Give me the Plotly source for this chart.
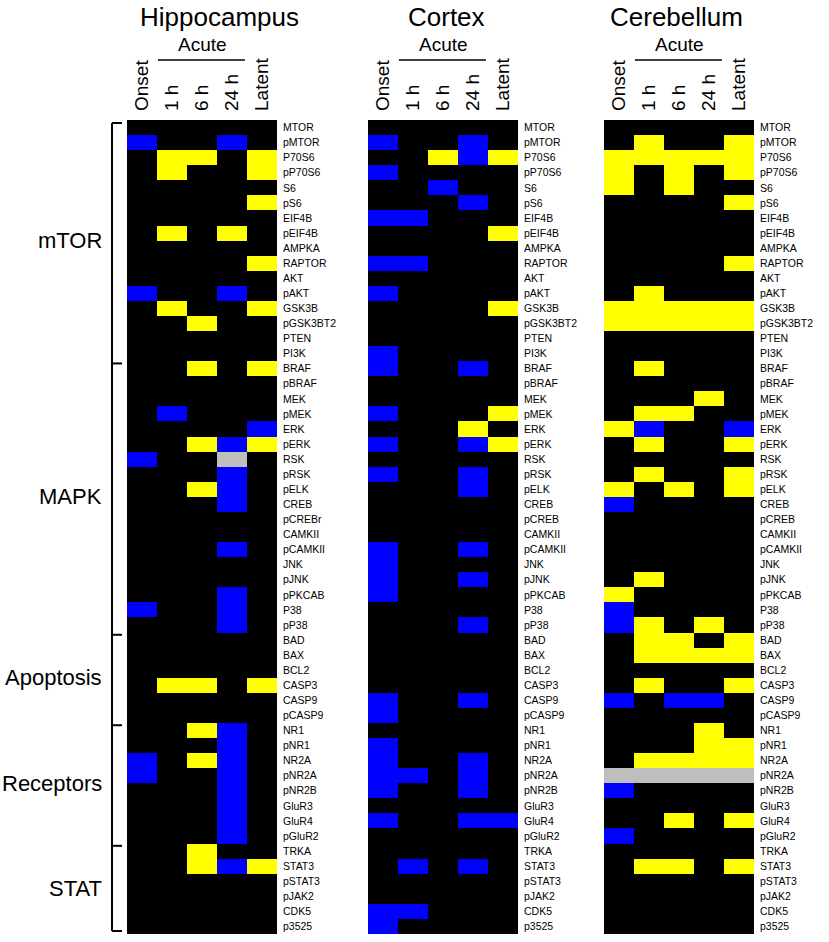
import plotly.graph_objects as go

# -1 = down (blue), 0 = no change (black), 1 = up (yellow), None = not measured (grey)
columns = ["Onset", "1 h", "6 h", "24 h", "Latent"]

proteins = ["MTOR", "pMTOR", "P70S6", "pP70S6", "S6", "pS6", "EIF4B", "pEIF4B",
            "AMPKA", "RAPTOR", "AKT", "pAKT", "GSK3B", "pGSK3BT2", "PTEN", "PI3K",
            "BRAF", "pBRAF", "MEK", "pMEK", "ERK", "pERK", "RSK", "pRSK", "pELK",
            "CREB", "pCREB", "CAMKII", "pCAMKII", "JNK", "pJNK", "pPKCAB", "P38",
            "pP38", "BAD", "BAX", "BCL2", "CASP3", "CASP9", "pCASP9", "NR1", "pNR1",
            "NR2A", "pNR2A", "pNR2B", "GluR3", "GluR4", "pGluR2", "TRKA", "STAT3",
            "pSTAT3", "pJAK2", "CDK5", "p3525"]
hippo_labels = [("pCREBr" if p == "pCREB" else p) for p in proteins]

hippocampus = [
    [0, 0, 0, 0, 0], [-1, 0, 0, -1, 0], [0, 1, 1, 0, 1], [0, 1, 0, 0, 1],
    [0, 0, 0, 0, 0], [0, 0, 0, 0, 1], [0, 0, 0, 0, 0], [0, 1, 0, 1, 0],
    [0, 0, 0, 0, 0], [0, 0, 0, 0, 1], [0, 0, 0, 0, 0], [-1, 0, 0, -1, 0],
    [0, 1, 0, 0, 1], [0, 0, 1, 0, 0], [0, 0, 0, 0, 0], [0, 0, 0, 0, 0],
    [0, 0, 1, 0, 1], [0, 0, 0, 0, 0], [0, 0, 0, 0, 0], [0, -1, 0, 0, 0],
    [0, 0, 0, 0, -1], [0, 0, 1, -1, 1], [-1, 0, 0, None, 0], [0, 0, 0, -1, 0],
    [0, 0, 1, -1, 0], [0, 0, 0, -1, 0], [0, 0, 0, 0, 0], [0, 0, 0, 0, 0],
    [0, 0, 0, -1, 0], [0, 0, 0, 0, 0], [0, 0, 0, 0, 0], [0, 0, 0, -1, 0],
    [-1, 0, 0, -1, 0], [0, 0, 0, -1, 0], [0, 0, 0, 0, 0], [0, 0, 0, 0, 0],
    [0, 0, 0, 0, 0], [0, 1, 1, 0, 1], [0, 0, 0, 0, 0], [0, 0, 0, 0, 0],
    [0, 0, 1, -1, 0], [0, 0, 0, -1, 0], [-1, 0, 1, -1, 0], [-1, 0, 0, -1, 0],
    [0, 0, 0, -1, 0], [0, 0, 0, -1, 0], [0, 0, 0, -1, 0], [0, 0, 0, -1, 0],
    [0, 0, 1, 0, 0], [0, 0, 1, -1, 1], [0, 0, 0, 0, 0], [0, 0, 0, 0, 0],
    [0, 0, 0, 0, 0], [0, 0, 0, 0, 0],
]

cortex = [
    [0, 0, 0, 0, 0], [-1, 0, 0, -1, 0], [0, 0, 1, -1, 1], [-1, 0, 0, 0, 0],
    [0, 0, -1, 0, 0], [0, 0, 0, -1, 0], [-1, -1, 0, 0, 0], [0, 0, 0, 0, 1],
    [0, 0, 0, 0, 0], [-1, -1, 0, 0, 0], [0, 0, 0, 0, 0], [-1, 0, 0, 0, 0],
    [0, 0, 0, 0, 1], [0, 0, 0, 0, 0], [0, 0, 0, 0, 0], [-1, 0, 0, 0, 0],
    [-1, 0, 0, -1, 0], [0, 0, 0, 0, 0], [0, 0, 0, 0, 0], [-1, 0, 0, 0, 1],
    [0, 0, 0, 1, 0], [-1, 0, 0, -1, 1], [0, 0, 0, 0, 0], [-1, 0, 0, -1, 0],
    [0, 0, 0, -1, 0], [0, 0, 0, 0, 0], [0, 0, 0, 0, 0], [0, 0, 0, 0, 0],
    [-1, 0, 0, -1, 0], [-1, 0, 0, 0, 0], [-1, 0, 0, -1, 0], [-1, 0, 0, 0, 0],
    [0, 0, 0, 0, 0], [0, 0, 0, -1, 0], [0, 0, 0, 0, 0], [0, 0, 0, 0, 0],
    [0, 0, 0, 0, 0], [0, 0, 0, 0, 0], [-1, 0, 0, -1, 0], [-1, 0, 0, 0, 0],
    [0, 0, 0, 0, 0], [-1, 0, 0, 0, 0], [-1, 0, 0, -1, 0], [-1, -1, 0, -1, 0],
    [-1, 0, 0, -1, 0], [0, 0, 0, 0, 0], [-1, 0, 0, -1, -1], [0, 0, 0, 0, 0],
    [0, 0, 0, 0, 0], [0, -1, 0, -1, 0], [0, 0, 0, 0, 0], [0, 0, 0, 0, 0],
    [-1, -1, 0, 0, 0], [-1, 0, 0, 0, 0],
]

cerebellum = [
    [0, 0, 0, 0, 0], [0, 1, 0, 0, 1], [1, 1, 1, 1, 1], [1, 0, 1, 0, 1],
    [1, 0, 1, 0, 0], [0, 0, 0, 0, 1], [0, 0, 0, 0, 0], [0, 0, 0, 0, 0],
    [0, 0, 0, 0, 0], [0, 0, 0, 0, 1], [0, 0, 0, 0, 0], [0, 1, 0, 0, 0],
    [1, 1, 1, 1, 1], [1, 1, 1, 1, 1], [0, 0, 0, 0, 0], [0, 0, 0, 0, 0],
    [0, 1, 0, 0, 0], [0, 0, 0, 0, 0], [0, 0, 0, 1, 0], [0, 1, 1, 0, 0],
    [1, -1, 0, 0, -1], [0, 1, 0, 0, 1], [0, 0, 0, 0, 0], [0, 1, 0, 0, 1],
    [1, 0, 1, 0, 1], [-1, 0, 0, 0, 0], [0, 0, 0, 0, 0], [0, 0, 0, 0, 0],
    [0, 0, 0, 0, 0], [0, 0, 0, 0, 0], [0, 1, 0, 0, 0], [1, 0, 0, 0, 0],
    [-1, 0, 0, 0, 0], [-1, 1, 0, 1, 0], [0, 1, 1, 0, 1], [0, 1, 1, 1, 1],
    [0, 0, 0, 0, 0], [0, 1, 0, 0, 1], [-1, 0, -1, -1, 0], [0, 0, 0, 0, 0],
    [0, 0, 0, 1, 0], [0, 0, 0, 1, 1], [0, 1, 1, 1, 1],
    [None, None, None, None, None],
    [-1, 0, 0, 0, 0], [0, 0, 0, 0, 0], [0, 0, 1, 0, 1], [-1, 0, 0, 0, 0],
    [0, 0, 0, 0, 0], [0, 1, 1, 0, 1], [0, 0, 0, 0, 0], [0, 0, 0, 0, 0],
    [0, 0, 0, 0, 0], [0, 0, 0, 0, 0],
]

groups = ["mTOR", "MAPK", "Apoptosis", "Receptors", "STAT"]
group_first_row = [0, 16, 34, 40, 48]
group_last_row = [15, 33, 39, 47, 53]

regions = ["Hippocampus", "Cortex", "Cerebellum"]

W, H = 829, 942
FONT = "Liberation Sans, Arial, sans-serif"


def px_x(p):
    return p / W


def px_y(p):
    return 1 - p / H


panel_px = [(127, 277), (368, 518), (604, 754)]
title_px = [219, 446, 676]
y_dom = [px_y(934), px_y(120)]

colorscale = [[0, "#0000FF"], [0.333, "#0000FF"], [0.333, "#000000"],
              [0.667, "#000000"], [0.667, "#FFFF00"], [1, "#FFFF00"]]

fig = go.Figure()
layout = dict(
    width=W, height=H,
    margin=dict(l=0, r=0, t=0, b=0),
    paper_bgcolor="white",
    plot_bgcolor="#BEBEBE",
    showlegend=False,
    font=dict(family=FONT, color="black"),
)

data_sets = [hippocampus, cortex, cerebellum]
label_sets = [hippo_labels, proteins, proteins]
annotations = []
shapes = []

for k in range(3):
    suffix = "" if k == 0 else str(k + 1)
    fig.add_trace(go.Heatmap(
        z=data_sets[k],
        x=list(range(len(columns))),
        y=list(range(len(proteins))),
        zmin=-1, zmax=1,
        colorscale=colorscale,
        showscale=False,
        xaxis="x" + suffix,
        yaxis="y" + suffix))

    x0, x1 = panel_px[k]
    layout["xaxis" + suffix] = dict(
        domain=[px_x(x0), px_x(x1)],
        range=[-0.5, 4.5],
        anchor="y" + suffix,
        side="top",
        tickvals=list(range(len(columns))),
        ticktext=columns,
        tickangle=-90,
        tickfont=dict(size=19, family=FONT),
        ticks="",
        ticklabelstandoff=8,
        showgrid=False,
        zeroline=False,
        showline=False)
    layout["yaxis" + suffix] = dict(
        domain=y_dom,
        range=[len(proteins) - 0.5, -0.5],
        anchor="x" + suffix,
        side="right",
        tickvals=list(range(len(proteins))),
        ticktext=label_sets[k],
        tickfont=dict(size=10.5, family=FONT),
        ticks="",
        ticklabelstandoff=5,
        showgrid=False,
        zeroline=False,
        showline=False)

    # region title
    annotations.append(dict(
        text=regions[k], xref="paper", yref="paper",
        x=px_x(title_px[k]), y=px_y(17),
        xanchor="center", yanchor="middle",
        showarrow=False, font=dict(size=26, family=FONT)))

    # "Acute" label with line over 1 h - 24 h
    annotations.append(dict(
        text="Acute", xref="x" + suffix, yref="paper",
        x=2, y=px_y(45),
        xanchor="center", yanchor="middle",
        showarrow=False, font=dict(size=19, family=FONT)))
    shapes.append(dict(
        type="line", xref="x" + suffix, yref="paper",
        x0=0.53, x1=3.43, y0=px_y(60), y1=px_y(60),
        line=dict(color="black", width=1.5)))

# bracket on the left of the first panel
bx, tx = px_x(112), px_x(122)
shapes.append(dict(type="line", xref="paper", yref="y",
                   x0=bx, x1=bx, y0=-0.3, y1=len(proteins) - 0.7,
                   line=dict(color="black", width=2)))
ticks_at = [-0.3] + [r + 0.65 for r in group_last_row[:-1]] + [len(proteins) - 0.7]
for t in ticks_at:
    shapes.append(dict(type="line", xref="paper", yref="y",
                       x0=bx, x1=tx, y0=t, y1=t,
                       line=dict(color="black", width=2)))

for g, a, b in zip(groups, group_first_row, group_last_row):
    annotations.append(dict(
        text=g, xref="paper", yref="y",
        x=px_x(104), y=(a + b) / 2,
        xanchor="right", yanchor="middle",
        showarrow=False, font=dict(size=22, family=FONT)))

layout["annotations"] = annotations
layout["shapes"] = shapes
fig.update_layout(**layout)

# drop the default 8px page margin so the figure fills the window exactly
fig.write_html(
    "out.html",
    config={"displayModeBar": False},
    post_script="document.body.style.margin='0';"
                "document.body.style.overflow='hidden';")
